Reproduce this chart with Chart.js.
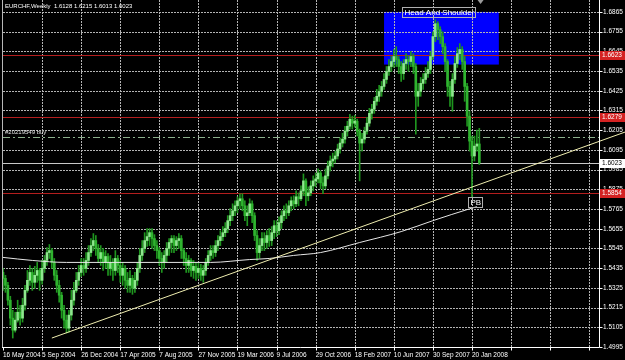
<!DOCTYPE html>
<html>
<head>
<meta charset="utf-8">
<script src="https://cdn.jsdelivr.net/npm/chart.js@4.4.1/dist/chart.umd.min.js"></script>
<style>
  html, body { margin: 0; padding: 0; background: #000; overflow: hidden; }
  #wrap { width: 625px; height: 360px; position: relative; }
  canvas { display: block; }
</style>
</head>
<body>
<div id="wrap"><canvas id="chart"></canvas></div>
<script>
// EURCHF weekly, one entry per week starting 16 May 2004
const symbolTitle = "EURCHF,Weekly"

const dateLabels = ["16 May 2004", "5 Sep 2004", "26 Dec 2004", "17 Apr 2005", "7 Aug 2005", "27 Nov 2005",
  "19 Mar 2006", "9 Jul 2006", "29 Oct 2006", "18 Feb 2007", "10 Jun 2007", "30 Sep 2007", "20 Jan 2008"]
const gridWeeks = [0, 16, 32, 48, 64, 80, 96, 112, 128, 144, 160, 176, 192, 208, 224, 240]
const priceTicks = [1.4995, 1.5105, 1.5215, 1.5325, 1.5435, 1.5545, 1.5655, 1.5765, 1.5875,
  1.5985, 1.6095, 1.6205, 1.6315, 1.6425, 1.6535, 1.6645, 1.6755, 1.6865]

const opens = [
  1.5411, 1.5378, 1.5339, 1.5256, 1.5156, 1.5089, 1.5145, 1.5189, 1.5156, 1.5228,
  1.5311, 1.5367, 1.5411, 1.5356, 1.5395, 1.5422, 1.5367, 1.5434, 1.5478, 1.5522,
  1.5533, 1.5467, 1.5395, 1.5339, 1.5284, 1.5200, 1.5145, 1.5100, 1.5173, 1.5256,
  1.5311, 1.5367, 1.5411, 1.5450, 1.5434, 1.5478, 1.5522, 1.5561, 1.5589, 1.5545,
  1.5489, 1.5522, 1.5467, 1.5500, 1.5434, 1.5467, 1.5422, 1.5489, 1.5450, 1.5395,
  1.5434, 1.5367, 1.5339, 1.5378, 1.5323, 1.5367, 1.5434, 1.5506, 1.5545, 1.5589,
  1.5611, 1.5633, 1.5600, 1.5561, 1.5533, 1.5489, 1.5467, 1.5506, 1.5545, 1.5578,
  1.5600, 1.5561, 1.5589, 1.5600, 1.5533, 1.5489, 1.5450, 1.5478, 1.5422, 1.5445,
  1.5411, 1.5434, 1.5395, 1.5422, 1.5467, 1.5506, 1.5533, 1.5522, 1.5561, 1.5589,
  1.5611, 1.5633, 1.5656, 1.5700, 1.5728, 1.5755, 1.5783, 1.5811, 1.5822, 1.5783,
  1.5728, 1.5744, 1.5794, 1.5728, 1.5617, 1.5522, 1.5561, 1.5600, 1.5578, 1.5617,
  1.5589, 1.5633, 1.5672, 1.5644, 1.5689, 1.5728, 1.5755, 1.5744, 1.5783, 1.5811,
  1.5794, 1.5833, 1.5822, 1.5866, 1.5922, 1.5839, 1.5855, 1.5894, 1.5922, 1.5933,
  1.5966, 1.5911, 1.5894, 1.5950, 1.6005, 1.6033, 1.6044, 1.6061, 1.6100, 1.6133,
  1.6155, 1.6199, 1.6227, 1.6266, 1.6244, 1.6255, 1.6199, 1.6133, 1.6155, 1.6199,
  1.6244, 1.6299, 1.6322, 1.6366, 1.6394, 1.6421, 1.6449, 1.6488, 1.6532, 1.6560,
  1.6588, 1.6616, 1.6599, 1.6560, 1.6521, 1.6577, 1.6599, 1.6588, 1.6616, 1.6560,
  1.6394, 1.6421, 1.6466, 1.6488, 1.6521, 1.6544, 1.6616, 1.6727, 1.6799, 1.6766,
  1.6727, 1.6671, 1.6588, 1.6449, 1.6394, 1.6488, 1.6577, 1.6632, 1.6655, 1.6588,
  1.6449, 1.6283, 1.6144, 1.6061, 1.6116, 1.6128
]
const highs = [
  1.5434, 1.5395, 1.5356, 1.5278, 1.5200, 1.5189, 1.5256, 1.5228, 1.5267, 1.5339,
  1.5422, 1.5450, 1.5434, 1.5445, 1.5467, 1.5434, 1.5478, 1.5506, 1.5550, 1.5567,
  1.5545, 1.5489, 1.5422, 1.5367, 1.5300, 1.5228, 1.5173, 1.5200, 1.5311, 1.5356,
  1.5411, 1.5450, 1.5489, 1.5489, 1.5522, 1.5561, 1.5600, 1.5628, 1.5617, 1.5567,
  1.5561, 1.5545, 1.5533, 1.5517, 1.5506, 1.5489, 1.5533, 1.5506, 1.5478, 1.5467,
  1.5450, 1.5411, 1.5422, 1.5395, 1.5411, 1.5467, 1.5545, 1.5589, 1.5633, 1.5656,
  1.5656, 1.5656, 1.5622, 1.5589, 1.5550, 1.5522, 1.5533, 1.5578, 1.5600, 1.5617,
  1.5617, 1.5611, 1.5628, 1.5617, 1.5545, 1.5522, 1.5506, 1.5489, 1.5478, 1.5467,
  1.5467, 1.5456, 1.5450, 1.5489, 1.5533, 1.5561, 1.5561, 1.5589, 1.5617, 1.5644,
  1.5667, 1.5689, 1.5728, 1.5767, 1.5794, 1.5811, 1.5833, 1.5850, 1.5850, 1.5811,
  1.5783, 1.5822, 1.5811, 1.5744, 1.5644, 1.5600, 1.5633, 1.5633, 1.5644, 1.5656,
  1.5667, 1.5700, 1.5700, 1.5722, 1.5755, 1.5783, 1.5794, 1.5811, 1.5833, 1.5839,
  1.5866, 1.5855, 1.5894, 1.5961, 1.5933, 1.5889, 1.5922, 1.5950, 1.5966, 1.5989,
  1.5977, 1.5944, 1.5989, 1.6033, 1.6061, 1.6077, 1.6088, 1.6127, 1.6161, 1.6188,
  1.6227, 1.6255, 1.6294, 1.6283, 1.6288, 1.6266, 1.6211, 1.6188, 1.6222, 1.6277,
  1.6327, 1.6349, 1.6388, 1.6433, 1.6455, 1.6477, 1.6521, 1.6560, 1.6599, 1.6616,
  1.6655, 1.6671, 1.6616, 1.6588, 1.6599, 1.6632, 1.6621, 1.6643, 1.6632, 1.6577,
  1.6466, 1.6499, 1.6521, 1.6555, 1.6588, 1.6643, 1.6754, 1.6821, 1.6810, 1.6782,
  1.6754, 1.6688, 1.6599, 1.6477, 1.6521, 1.6616, 1.6666, 1.6688, 1.6671, 1.6616,
  1.6466, 1.6310, 1.6172, 1.6172, 1.6205, 1.6215
]
const lows = [
  1.5311, 1.5300, 1.5228, 1.5117, 1.5045, 1.5078, 1.5134, 1.5117, 1.5134, 1.5200,
  1.5300, 1.5339, 1.5311, 1.5323, 1.5356, 1.5311, 1.5345, 1.5411, 1.5450, 1.5489,
  1.5434, 1.5367, 1.5300, 1.5245, 1.5156, 1.5100, 1.5073, 1.5078, 1.5145, 1.5228,
  1.5300, 1.5339, 1.5389, 1.5395, 1.5411, 1.5450, 1.5500, 1.5533, 1.5506, 1.5467,
  1.5450, 1.5422, 1.5434, 1.5395, 1.5395, 1.5367, 1.5395, 1.5411, 1.5356, 1.5339,
  1.5323, 1.5300, 1.5300, 1.5289, 1.5300, 1.5339, 1.5411, 1.5478, 1.5522, 1.5556,
  1.5561, 1.5545, 1.5533, 1.5489, 1.5450, 1.5411, 1.5434, 1.5467, 1.5506, 1.5522,
  1.5522, 1.5533, 1.5545, 1.5489, 1.5450, 1.5411, 1.5411, 1.5389, 1.5378, 1.5367,
  1.5378, 1.5367, 1.5356, 1.5395, 1.5450, 1.5478, 1.5489, 1.5500, 1.5533, 1.5561,
  1.5589, 1.5611, 1.5633, 1.5672, 1.5700, 1.5728, 1.5744, 1.5767, 1.5755, 1.5700,
  1.5672, 1.5728, 1.5689, 1.5589, 1.5478, 1.5489, 1.5533, 1.5533, 1.5545, 1.5556,
  1.5561, 1.5600, 1.5611, 1.5622, 1.5656, 1.5700, 1.5711, 1.5728, 1.5755, 1.5767,
  1.5778, 1.5783, 1.5811, 1.5839, 1.5783, 1.5811, 1.5839, 1.5866, 1.5889, 1.5911,
  1.5878, 1.5850, 1.5878, 1.5933, 1.5977, 1.6000, 1.6022, 1.6044, 1.6077, 1.6111,
  1.6133, 1.6172, 1.6211, 1.6211, 1.6222, 1.6172, 1.5922, 1.6088, 1.6133, 1.6183,
  1.6227, 1.6266, 1.6299, 1.6344, 1.6366, 1.6394, 1.6433, 1.6466, 1.6510, 1.6532,
  1.6555, 1.6560, 1.6521, 1.6477, 1.6488, 1.6544, 1.6532, 1.6560, 1.6521, 1.6183,
  1.6338, 1.6394, 1.6433, 1.6466, 1.6499, 1.6521, 1.6599, 1.6699, 1.6710, 1.6688,
  1.6632, 1.6532, 1.6394, 1.6338, 1.6310, 1.6466, 1.6555, 1.6599, 1.6544, 1.6366,
  1.6227, 1.6088, 1.5828, 1.6033, 1.6088, 1.6013
]
const closes = [
  1.5378, 1.5339, 1.5256, 1.5156, 1.5089, 1.5145, 1.5189, 1.5156, 1.5228, 1.5311,
  1.5367, 1.5411, 1.5356, 1.5395, 1.5422, 1.5367, 1.5434, 1.5478, 1.5522, 1.5533,
  1.5467, 1.5395, 1.5339, 1.5284, 1.5200, 1.5145, 1.5100, 1.5173, 1.5256, 1.5311,
  1.5367, 1.5411, 1.5450, 1.5434, 1.5478, 1.5522, 1.5561, 1.5589, 1.5545, 1.5489,
  1.5522, 1.5467, 1.5500, 1.5434, 1.5467, 1.5422, 1.5489, 1.5450, 1.5395, 1.5434,
  1.5367, 1.5339, 1.5378, 1.5323, 1.5367, 1.5434, 1.5506, 1.5545, 1.5589, 1.5611,
  1.5633, 1.5600, 1.5561, 1.5533, 1.5489, 1.5467, 1.5506, 1.5545, 1.5578, 1.5600,
  1.5561, 1.5589, 1.5600, 1.5533, 1.5489, 1.5450, 1.5478, 1.5422, 1.5445, 1.5411,
  1.5434, 1.5395, 1.5422, 1.5467, 1.5506, 1.5533, 1.5522, 1.5561, 1.5589, 1.5611,
  1.5633, 1.5656, 1.5700, 1.5728, 1.5755, 1.5783, 1.5811, 1.5822, 1.5783, 1.5728,
  1.5744, 1.5794, 1.5728, 1.5617, 1.5522, 1.5561, 1.5600, 1.5578, 1.5617, 1.5589,
  1.5633, 1.5672, 1.5644, 1.5689, 1.5728, 1.5755, 1.5744, 1.5783, 1.5811, 1.5794,
  1.5833, 1.5822, 1.5866, 1.5922, 1.5839, 1.5855, 1.5894, 1.5922, 1.5933, 1.5966,
  1.5911, 1.5894, 1.5950, 1.6005, 1.6033, 1.6044, 1.6061, 1.6100, 1.6133, 1.6155,
  1.6199, 1.6227, 1.6266, 1.6244, 1.6255, 1.6199, 1.6133, 1.6155, 1.6199, 1.6244,
  1.6299, 1.6322, 1.6366, 1.6394, 1.6421, 1.6449, 1.6488, 1.6532, 1.6560, 1.6588,
  1.6616, 1.6599, 1.6560, 1.6521, 1.6577, 1.6599, 1.6588, 1.6616, 1.6560, 1.6394,
  1.6421, 1.6466, 1.6488, 1.6521, 1.6544, 1.6616, 1.6727, 1.6799, 1.6766, 1.6727,
  1.6671, 1.6588, 1.6449, 1.6394, 1.6488, 1.6577, 1.6632, 1.6655, 1.6588, 1.6449,
  1.6283, 1.6144, 1.6061, 1.6116, 1.6128, 1.6023
]

// moving average curve, read at a few weeks
const maWeeks = [0, 12, 26, 40, 64, 85, 101, 109, 119, 130, 146, 163, 176, 191, 194]
const maValues = [1.5495, 1.5478, 1.5467, 1.5467, 1.5467, 1.5467, 1.5483, 1.5489, 1.5506,
  1.5522, 1.5578, 1.5639, 1.5700, 1.5766, 1.5778]

// support trendline (week, price), extended to the right edge
const trendWeeks = [20, 255]
const trendPrices = [1.5045, 1.6196]

const redLevels = [1.6623, 1.6279, 1.5854]
const orderLevel = 1.6168
const orderText = "#20219549 buy"
// head and shoulders zone: weeks from/to, price low/high
const hsBox = [156, 203, 1.6571, 1.6865]
const hsText = "Head And Shoulder"
const hsTextAt = [163.3, 1.6895]
const pbText = "PB"
const pbAt = [190.2, 1.5833]

const FONT = "'Liberation Sans', Arial, sans-serif"
const GRID = "#b4b4b4"

const wicks = lows.map((l, i) => ({ x: i, y: [l, highs[i]] }))
const bodies = closes.map((c, i) => ({ x: i, y: [Math.min(opens[i], c), Math.max(opens[i], c)] }))
const bodyColors = closes.map((c, i) => c >= opens[i] ? "#8ee88e" : "#2fb42f")

const fmt = v => v.toFixed(4)

const overlay = {
  id: "overlay",
  beforeDraw(chart) {
    const { ctx, scales: { x, y } } = chart
    const x0 = x.getPixelForValue(hsBox[0])
    const x1 = x.getPixelForValue(hsBox[1])
    const y0 = y.getPixelForValue(hsBox[3])
    const y1 = y.getPixelForValue(hsBox[2])
    ctx.save()
    ctx.fillStyle = "#0000ff"
    ctx.fillRect(x0, y0, x1 - x0, y1 - y0)
    ctx.restore()
  },
  beforeDatasetsDraw(chart) {
    const { ctx, chartArea: a, scales: { x, y } } = chart
    ctx.save()
    ctx.lineWidth = 1
    // dotted grid
    ctx.strokeStyle = GRID
    ctx.setLineDash([2, 1])
    ctx.beginPath()
    gridWeeks.forEach(w => {
      const px = Math.round(x.getPixelForValue(w)) + 0.5
      if (px <= a.left + 1) return
      ctx.moveTo(px, 0)
      ctx.lineTo(px, a.bottom)
    })
    priceTicks.forEach(p => {
      const py = Math.round(y.getPixelForValue(p)) + 0.5
      if (py >= a.bottom - 1) return
      ctx.moveTo(a.left, py)
      ctx.lineTo(a.right, py)
    })
    ctx.stroke()

    // level lines
    const hline = (price, color, dash) => {
      const py = Math.round(y.getPixelForValue(price)) + 0.5
      ctx.strokeStyle = color
      ctx.setLineDash(dash || [])
      ctx.beginPath()
      ctx.moveTo(a.left, py)
      ctx.lineTo(a.right, py)
      ctx.stroke()
    }
    redLevels.forEach(p => hline(p, "#b41e1e"))
    hline(closes[closes.length - 1], "#c8c8c8")
    hline(orderLevel, "#8cb08c", [7, 3, 2, 3])
    ctx.restore()
  },
  afterDraw(chart) {
    const { ctx, chartArea: a, scales: { x, y } } = chart
    const right = Math.round(a.right) + 0.5
    const bottom = Math.round(a.bottom) + 0.5
    ctx.save()
    ctx.lineWidth = 1
    // frame, axis lines and tick marks
    ctx.strokeStyle = "#b8b8b8"
    ctx.beginPath()
    ctx.moveTo(2.5, 0)
    ctx.lineTo(2.5, bottom)
    ctx.stroke()
    ctx.strokeStyle = "#ffffff"
    ctx.beginPath()
    ctx.moveTo(right, 0)
    ctx.lineTo(right, bottom)
    ctx.lineTo(2, bottom)
    priceTicks.forEach(p => {
      const py = Math.round(y.getPixelForValue(p)) + 0.5
      ctx.moveTo(right, py)
      ctx.lineTo(right + 3, py)
    })
    gridWeeks.forEach(w => {
      const px = Math.round(x.getPixelForValue(w)) + 0.5
      ctx.moveTo(px, bottom)
      ctx.lineTo(px, bottom + 3)
    })
    ctx.stroke()

    ctx.textBaseline = "middle"
    ctx.textAlign = "left"
    ctx.font = "6.5px " + FONT
    // price tags on the axis
    const tag = (price, bg, fg) => {
      const py = Math.round(y.getPixelForValue(price))
      ctx.fillStyle = bg
      ctx.fillRect(right + 0.5, py - 4, 25, 9)
      ctx.fillStyle = fg
      ctx.fillText(fmt(price), right + 2.5, py + 0.5)
    }
    redLevels.forEach(p => tag(p, "#d42222", "#ffffff"))
    tag(closes[closes.length - 1], "#ffffff", "#000000")

    // header
    const last = closes.length - 1
    ctx.font = "6px " + FONT
    ctx.fillStyle = "#ffffff"
    ctx.fillText(symbolTitle + "  " + [opens[last], highs[last], lows[last], closes[last]].map(fmt).join(" "), 5, 6)

    // order label
    const oy = y.getPixelForValue(orderLevel)
    ctx.fillStyle = "#e0e0e0"
    ctx.fillText(orderText, 5, oy - 4)

    // text boxes
    const box = (text, at, size) => {
      ctx.font = size + "px " + FONT
      const bx = Math.round(x.getPixelForValue(at[0])) + 0.5
      const by = Math.round(y.getPixelForValue(at[1])) + 0.5
      const w = Math.ceil(ctx.measureText(text).width) + 3
      ctx.strokeStyle = "#b0b0b0"
      ctx.strokeRect(bx, by, w, 10)
      ctx.fillStyle = "#ffffff"
      ctx.fillText(text, bx + 2, by + 5.5)
    }
    box(hsText, hsTextAt, 8)
    box(pbText, pbAt, 8)

    // chart shift marker
    const sx = x.getPixelForValue(closes.length - 0.5)
    ctx.fillStyle = "#9a9a9a"
    ctx.beginPath()
    ctx.moveTo(sx - 3, 0)
    ctx.lineTo(sx + 3, 0)
    ctx.lineTo(sx, 4)
    ctx.closePath()
    ctx.fill()
    ctx.restore()
  }
}

new Chart(document.getElementById("chart"), {
  type: "bar",
  data: {
    datasets: [
      {
        type: "line",
        data: trendWeeks.map((w, i) => ({ x: w, y: trendPrices[i] })),
        borderColor: "#f0eeb0",
        borderWidth: 1,
        pointRadius: 0,
        clip: false,
        order: 0
      },
      {
        type: "line",
        data: maWeeks.map((w, i) => ({ x: w, y: maValues[i] })),
        borderColor: "#e6e6e6",
        borderWidth: 1,
        pointRadius: 0,
        cubicInterpolationMode: "monotone",
        order: 1
      },
      {
        data: bodies,
        backgroundColor: bodyColors,
        barThickness: 2,
        minBarLength: 1,
        grouped: false,
        order: 2
      },
      {
        data: wicks,
        backgroundColor: "#1f961f",
        barThickness: 1,
        grouped: false,
        order: 3
      }
    ]
  },
  options: {
    responsive: true,
    maintainAspectRatio: false,
    animation: false,
    events: [],
    layout: {
      padding: { top: 3, left: 3, right: 0, bottom: 0 }
    },
    scales: {
      x: {
        type: "linear",
        min: 0,
        max: 244,
        offset: false,
        afterBuildTicks: s => { s.ticks = gridWeeks.map(v => ({ value: v })) },
        afterFit: s => { s.height = 13 },
        grid: { display: false, drawTicks: true, tickLength: 3 },
        border: { display: false },
        ticks: {
          color: "#ffffff",
          font: { family: FONT, size: 6.5 },
          align: "start",
          maxRotation: 0,
          autoSkip: false,
          padding: 1,
          callback: (v, i) => dateLabels[i] || ""
        }
      },
      y: {
        position: "right",
        min: 1.4995,
        max: 1.6904,
        afterBuildTicks: s => { s.ticks = priceTicks.map(v => ({ value: v })) },
        afterFit: s => { s.width = 26 },
        grid: { display: false, drawTicks: true, tickLength: 3 },
        border: { display: false },
        ticks: {
          color: "#ffffff",
          font: { family: FONT, size: 6.5 },
          padding: 1,
          callback: v => fmt(v)
        }
      }
    },
    plugins: {
      legend: { display: false },
      tooltip: { enabled: false }
    }
  },
  plugins: [overlay]
})
</script>
</body>
</html>
